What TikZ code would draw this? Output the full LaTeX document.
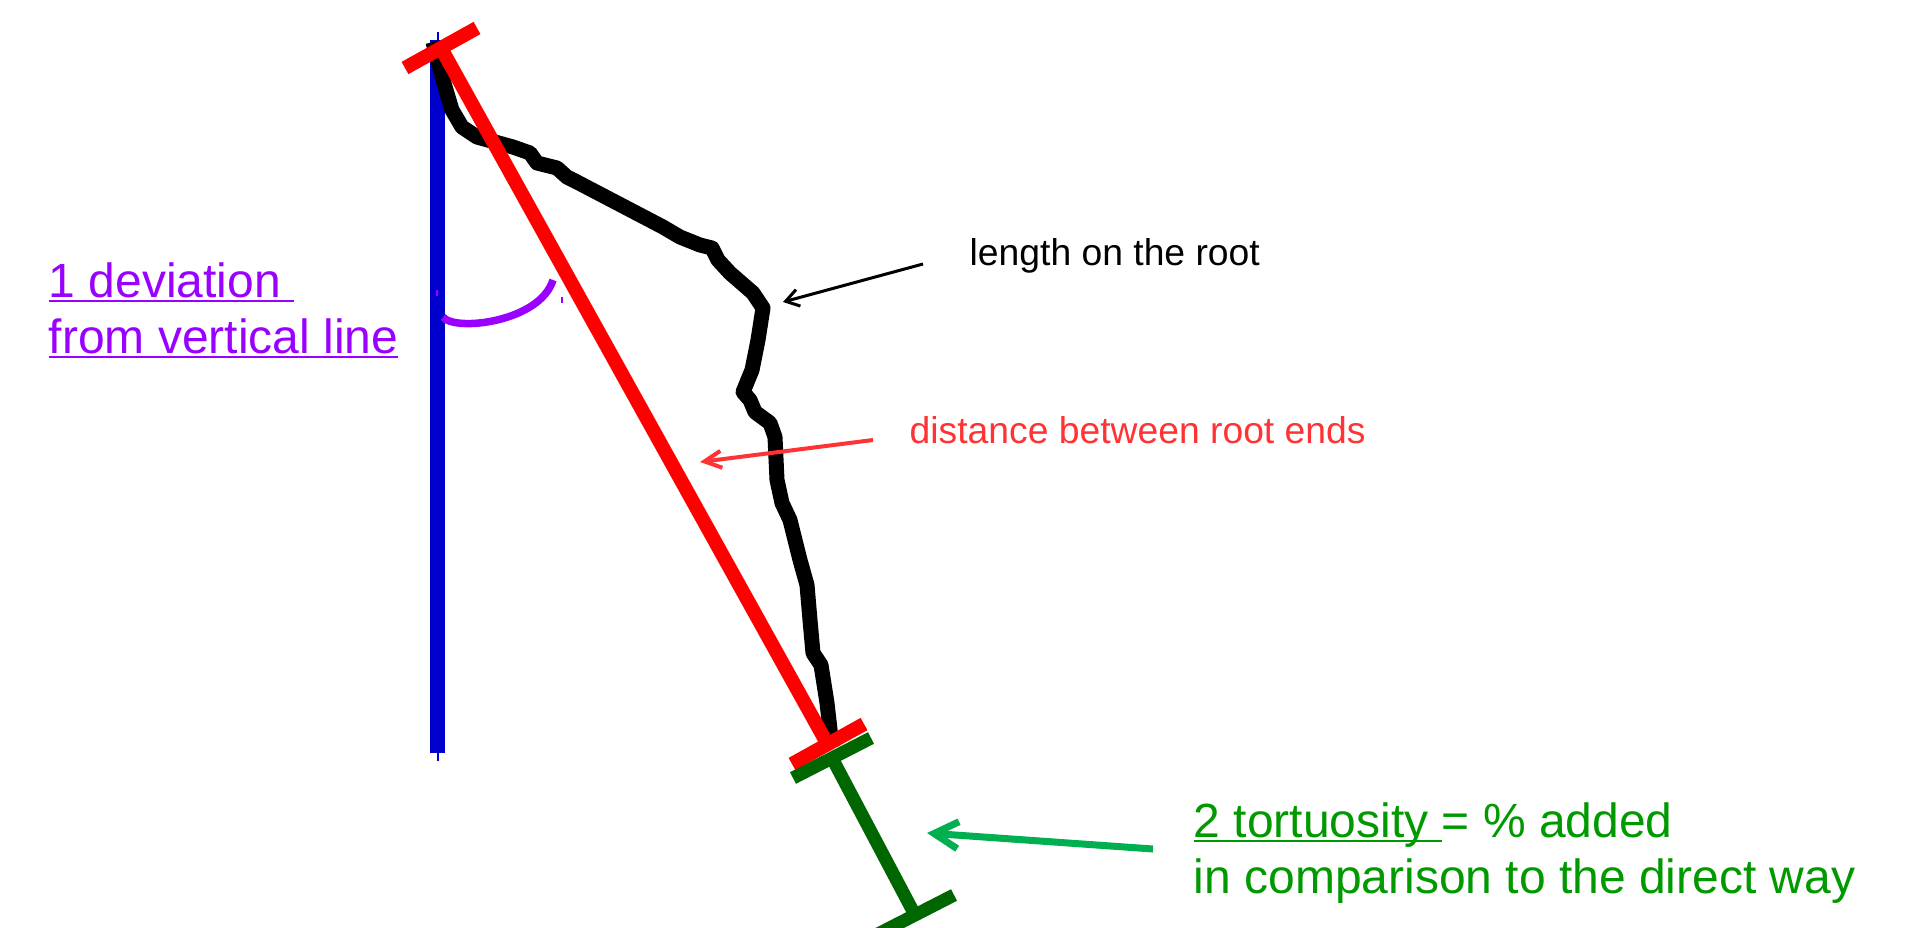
\documentclass[tikz,border=0pt]{standalone}
\usepackage{fontspec}
\setmainfont{Liberation Sans}
\usetikzlibrary{arrows.meta}
\definecolor{vertblue}{HTML}{0000CC}
\definecolor{anglepurple}{HTML}{9900FF}
\definecolor{distred}{HTML}{FF3333}
\definecolor{addgreen}{HTML}{006600}
\definecolor{arrowgreen}{HTML}{00B050}
\definecolor{textgreen}{HTML}{009900}
\newsavebox\ulbox
\newcommand\ulinetext[1]{\sbox\ulbox{#1}\rlap{\rule[-1.5pt]{\wd\ulbox}{0.75pt}}\usebox\ulbox}
\tikzset{
  vertline/.style={vertblue,line width=0.15cm},
  directline/.style={red,line width=0.14cm},
  addline/.style={addgreen,line width=0.13cm},
  rootline/.style={black,line width=0.15cm,line join=round},
  anglearc/.style={anglepurple,line width=0.075cm},
  lenarrow/.style={-{Straight Barb[length=0.13cm,width=0.17cm]},line width=0.03cm},
  distarrow/.style={distred,-{Straight Barb[length=0.17cm,width=0.17cm]},line width=0.04cm},
  tortarrow/.style={arrowgreen,-{Straight Barb[length=0.24cm,width=0.27cm]},line width=0.07cm},
  smalllabel/.style={font=\fontsize{10.6}{12.5}\selectfont,inner sep=0pt,anchor=base west},
  biglabel/.style={font=\fontsize{13.65}{15.9}\selectfont,inner sep=0pt,align=left,anchor=base west}
}
\begin{document}
\begin{tikzpicture}[x=0.01cm,y=-0.01cm]
  \useasboundingbox (0,0) rectangle (1918,927);
  \draw[vertblue,line width=0.3pt] (438,32)--(438,761);
  \draw[vertline] (437,40)--(437,753);
  \draw[rootline] (433,42)--(443,80)--(452,110)--(462,127)--(477,137)--(513,147)
    --(530,153)--(537,163)--(557,168)--(567,177)--(577,182)--(663,227)--(680,237)
    --(700,245)--(712,248)--(718,260)--(730,273)--(753,293)--(763,308)--(758,340)
    --(752,370)--(743,392)--(750,400)--(755,412)--(770,423)--(775,437)--(777,480)
    --(782,503)--(790,520)--(800,560)--(807,585)--(810,620)--(813,653)--(821,665)
    --(827,703)--(832,747);
  \coordinate (rtop) at (441,48);
  \coordinate (rbot) at (828,745);
  \draw[directline] (rtop)--(rbot);
  \draw[directline] (405,68)--(477,28);
  \draw[directline] (792,764)--(864,724);
  \draw[addline] (832,758)--(915,915);
  \draw[addline] (793,778)--(871,738);
  \draw[addline] (876,935)--(954,895);
  \draw[anglearc] (443,317) .. controls (455,332) and (540,322) .. (553,280);
  \draw[anglepurple,line width=0.3pt] (437,290)--(437,296) (562,297)--(562,303);
  \node[biglabel,text=anglepurple] (devlabel) at (48,353)
    {\ulinetext{1 deviation\ }\\\ulinetext{from vertical line}};
  \node[smalllabel] (lenlabel) at (969,265) {length on the root};
  \node[smalllabel,text=distred] (distlabel) at (909,443) {distance between root ends};
  \node[biglabel,text=textgreen] (tortlabel) at (1193,893)
    {\ulinetext{2 tortuosity\ }= \% added\\in comparison to the direct way};
  \coordinate (lentip) at (783,302);
  \coordinate (disttip) at (700,462);
  \coordinate (torttip) at (927,833);
  \draw[lenarrow] ([shift={(-46,-1)}]lenlabel.base west) -- (lentip);
  \draw[distarrow] ([shift={(-36,-3)}]distlabel.base west) -- (disttip);
  \draw[tortarrow] ([shift={(-40,-44)}]tortlabel.base west) -- (torttip);
\end{tikzpicture}
\end{document}
